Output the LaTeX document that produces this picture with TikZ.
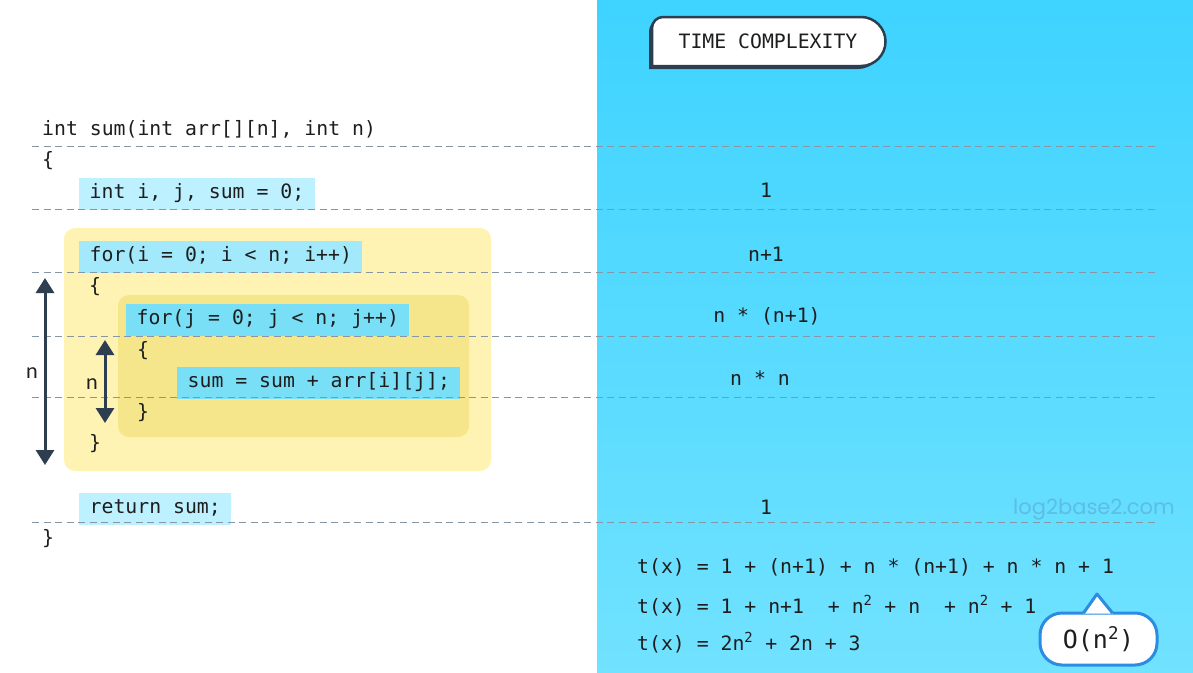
\documentclass[tikz,border=0pt]{standalone}
\usepackage{fontspec}
\newfontfamily\codefont{DejaVu Sans Mono}
\newfontfamily\labelfont{Lato}
\newfontfamily\markfont{Poppins}
\usepackage{tikz}
\usetikzlibrary
  {
    arrows.meta,  % triangle arrow heads
  }

\definecolor{ink}{HTML}{1E1E1E}
\definecolor{slate}{HTML}{2C3E50}
\definecolor{rulegray}{HTML}{8796A4}
\definecolor{skytop}{HTML}{3ED3FF}
\definecolor{skybottom}{HTML}{71E2FF}
\definecolor{loopouter}{HTML}{FFF3B3}
\definecolor{loopinner}{HTML}{F5E68B}
\definecolor{hlpale}{HTML}{BDF1FF}
\definecolor{hlmid}{HTML}{A2EAFB}
\definecolor{hldeep}{HTML}{78DFF7}
\definecolor{bubbleblue}{HTML}{2C8CE2}
\definecolor{watermark}{HTML}{5CBEE2}

\begin{document}
\begin{tikzpicture}
    [
      x=1pt, y=-1pt,
      code/.style=
        {
          font=\codefont\fontsize{19.8}{22}\selectfont,
          text=ink,
          anchor=west,
          inner xsep=0pt,
          inner ysep=0pt,
          text height=14pt,
          text depth=4pt,
          yshift=-1.5pt,
        },
      hl/.style=
        {
          code,
          fill=#1,
          inner xsep=10.5pt,
          minimum height=32pt,
        },
      cost/.style={code, anchor=center},
      rule/.style=
        {
          draw=rulegray,
          line width=1pt,
          dash pattern=on 7pt off 4.5pt,
        },
      bound/.style=
        {
          draw=slate,
          line width=3pt,
          {Triangle[width=18pt,length=15pt]}-{Triangle[width=18pt,length=15pt]},
        },
      dimlabel/.style={font=\labelfont\fontsize{21}{24}\selectfont, text=ink},
    ]
    \useasboundingbox (0,0) rectangle (1193,672);
    \fill[white] (0,0) rectangle (597,672);
    \shade[top color=skytop, bottom color=skybottom] (597,0) rectangle (1193,672);

    % loop backgrounds
    \fill[loopouter, rounded corners=11pt] (64,228) rectangle (491,471);
    \fill[loopinner, rounded corners=11pt] (118,295) rectangle (469,437);

    % code lines
    \node[code]         (signature)   at (42,129)  {int sum(int arr[][n], int n)};
    \node[code]         (open brace)  at (42,160)  {\{};
    \node[hl=hlpale]    (decl)        at (79,192)  {int i, j, sum = 0;};
    \node[hl=hlmid]     (outer for)   at (79,255)  {for(i = 0; i < n; i++)};
    \node[code]         (outer open)  at (89,286)  {\{};
    \node[hl=hldeep]    (inner for)   at (126,318) {for(j = 0; j < n; j++)};
    \node[code]         (inner open)  at (137,350) {\{};
    \node[hl=hldeep]    (body)        at (177,381) {sum = sum + arr[i][j];};
    \node[code]         (inner close) at (137,412) {\}};
    \node[code]         (outer close) at (89,443)  {\}};
    \node[hl=hlpale]    (ret)         at (79,507)  {return sum;};
    \node[code]         (close brace) at (42,538)  {\}};

    % row separators
    \foreach \y in {146,209,272,336,397,522}
      \draw[rule] (32,\y) -- (1158,\y);

    % loop counts
    \coordinate (outer top)    at (45,278);
    \coordinate (outer bottom) at (45,465);
    \coordinate (inner top)    at (105,340);
    \coordinate (inner bottom) at (105,423);
    \draw[bound] (outer top) -- (outer bottom);
    \draw[bound] (inner top) -- (inner bottom);
    \node[dimlabel] (outer n) at (32,373) {n};
    \node[dimlabel] (inner n) at (92,384) {n};

    % cost of each row
    \node[cost] (cost decl)  at (766,191) {1};
    \node[cost] (cost outer) at (766,255) {n+1};
    \node[cost] (cost inner) at (767,316) {n * (n+1)};
    \node[cost] (cost body)  at (760,379) {n * n};
    \node[cost] (cost ret)   at (766,508) {1};

    % totals
    \node[code] (total a) at (637,567)
      {t(x) = 1 + (n+1) + n * (n+1) + n * n + 1};
    \node[code] (total b) at (637,607)
      {t(x) = 1 + n+1~ + n\textsuperscript{2} + n~ + n\textsuperscript{2} + 1};
    \node[code] (total c) at (637,644)
      {t(x) = 2n\textsuperscript{2} + 2n + 3};

    % header tab
    \fill[slate, shift={(-3,3)}]
      (652,66) -- (652,28) arc[start angle=180, end angle=90, radius=11pt]
      -- (861,17) arc[start angle=90, end angle=-90, radius=24.5pt] -- cycle;
    \draw[slate, fill=white, line width=2.5pt]
      (652,66) -- (652,28) arc[start angle=180, end angle=90, radius=11pt]
      -- (861,17) arc[start angle=90, end angle=-90, radius=24.5pt] -- cycle;
    \node[cost] (title) at (768,42) {TIME COMPLEXITY};

    % watermark
    \node[font=\markfont\fontsize{21}{24}\selectfont, text=watermark]
      (site) at (1094,510) {log2base2.com};

    % result bubble
    \node[draw=bubbleblue, fill=white, line width=3pt, rounded corners=22pt,
          minimum width=117pt, minimum height=52pt,
          font=\codefont\fontsize{25}{28}\selectfont, text=ink]
      (big o) at (1098.5,639) {O(n\textsuperscript{2})};
    \coordinate (tip) at (1097,594);
    \fill[white] ([xshift=-15pt,yshift=-2pt]big o.north) -- (tip)
      -- ([xshift=14pt,yshift=-2pt]big o.north) -- cycle;
    \draw[bubbleblue, line width=3pt, line join=round]
      ([xshift=-15pt,yshift=-1.5pt]big o.north) -- (tip)
      -- ([xshift=14pt,yshift=-1.5pt]big o.north);
\end{tikzpicture}
\end{document}
